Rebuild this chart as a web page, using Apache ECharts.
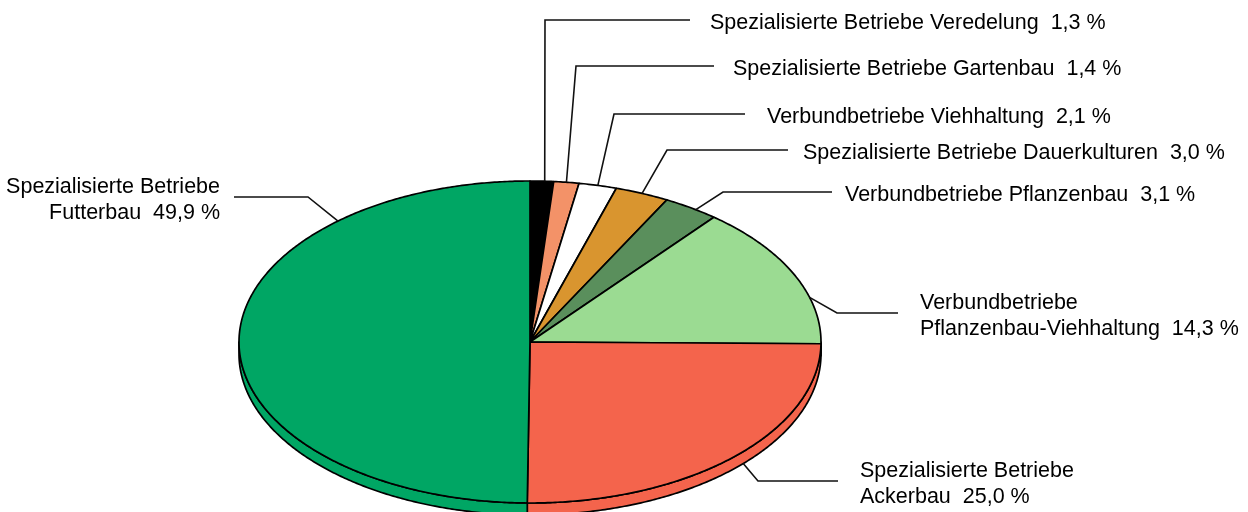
<!DOCTYPE html>
<html>
<head>
<meta charset="utf-8">
<script src="https://cdn.jsdelivr.net/npm/echarts@6/dist/echarts.min.js"></script>
<style>
  html, body { margin: 0; padding: 0; background: #fff; }
  #main { width: 1248px; height: 512px; }
</style>
</head>
<body>
<div id="main"></div>
<script>
// Betriebsformen, Anteile in %
const categories = [
  'Spezialisierte Betriebe Veredelung',
  'Spezialisierte Betriebe Gartenbau',
  'Verbundbetriebe Viehhaltung',
  'Spezialisierte Betriebe Dauerkulturen',
  'Verbundbetriebe Pflanzenbau',
  'Verbundbetriebe\nPflanzenbau-Viehhaltung',
  'Spezialisierte Betriebe\nAckerbau',
  'Spezialisierte Betriebe\nFutterbau'
];
const shares = [1.3, 1.4, 2.1, 3.0, 3.1, 14.3, 25.0, 49.9];
const colors = ['#000000', '#f39268', '#ffffff', '#d9952f', '#5a8f5c', '#9bdb92', '#f4644c', '#00a664'];

// pie layout (tilted disc)
const pie = { cx: 530, cy: 342, rx: 291, ry: 161, depth: 12 };
// leader lines: where it leaves the slice (0..1), elbow point, end of line, text x
const leaders = [
  { at: 0.62, elbow: [545, 20], end: 690, textX: 710 },
  { at: 0.5, elbow: [576, 66], end: 714, textX: 733 },
  { at: 0.5, elbow: [614, 114], end: 745, textX: 767 },
  { at: 0.5, elbow: [667, 150], end: 788, textX: 803 },
  { at: 0.6, elbow: [723, 192], end: 832, textX: 845 },
  { at: 0.675, elbow: [837, 313], end: 898, textX: 920 },
  { at: 0.47, elbow: [758, 481], end: 838, textX: 860 },
  { at: 0.77, elbow: [308, 197], end: 234, textX: 220, right: true }
];

const total = shares.reduce((a, b) => a + b, 0);
const starts = [];
shares.reduce((acc, v, i) => { starts[i] = acc; return acc + v; }, 0);

const FONT = '21.5px "Liberation Sans", Arial, sans-serif';

function pt(deg, dy) {
  const r = deg * Math.PI / 180;
  return [pie.cx + pie.rx * Math.sin(r), pie.cy - pie.ry * Math.cos(r) + dy];
}

function arc(from, to, dy) {
  const n = Math.max(2, Math.ceil(Math.abs(to - from) / 0.5) + 1);
  const pts = [];
  for (let k = 0; k < n; k++) {
    pts.push(pt(from + (to - from) * k / (n - 1), dy));
  }
  return pts;
}

function fmt(v) {
  return v.toFixed(1).replace('.', ',') + ' %';
}

function renderItem(params, api) {
  const i = params.dataIndex;
  const v = api.value(0);
  const a0 = starts[i] / total * 360;
  const a1 = (starts[i] + v) / total * 360;
  const children = [];

  // Seitenwand (nur vordere Hälfte sichtbar)
  const s0 = Math.max(a0, 90), s1 = Math.min(a1, 270);
  if (s1 > s0) {
    children.push({
      type: 'polygon',
      shape: { points: arc(s0, s1, 0).concat(arc(s1, s0, pie.depth)) },
      style: { fill: colors[i], stroke: '#000', lineWidth: 1.7, lineJoin: 'round' }
    });
  }

  // Oberseite
  children.push({
    type: 'polygon',
    shape: { points: [[pie.cx, pie.cy]].concat(arc(a0, a1, 0)) },
    style: { fill: colors[i], stroke: '#000', lineWidth: 1.7, lineJoin: 'round' }
  });

  // Führungslinie + Beschriftung
  const L = leaders[i];
  const ang = a0 + (a1 - a0) * L.at;
  const start = pt(ang, ang > 90 && ang < 270 ? pie.depth : 0);
  children.push({
    type: 'polyline',
    z2: 10,
    shape: { points: [start, L.elbow, [L.end, L.elbow[1]]] },
    style: { fill: null, stroke: '#111', lineWidth: 1.6 }
  });
  children.push({
    type: 'text',
    z2: 10,
    x: L.textX,
    y: L.elbow[1] + 3,
    style: {
      text: categories[i] + '  ' + fmt(v),
      font: FONT,
      fill: '#000',
      lineHeight: 26,
      align: L.right ? 'right' : 'left',
      textAlign: L.right ? 'right' : 'left',
      verticalAlign: 'middle',
      textVerticalAlign: 'middle'
    }
  });

  return { type: 'group', children: children };
}

const chart = echarts.init(document.getElementById('main'), null, { renderer: 'canvas' });
chart.setOption({
  backgroundColor: '#ffffff',
  animation: false,
  series: [{
    type: 'custom',
    coordinateSystem: 'none',
    renderItem: renderItem,
    data: shares
  }]
});
</script>
</body>
</html>
